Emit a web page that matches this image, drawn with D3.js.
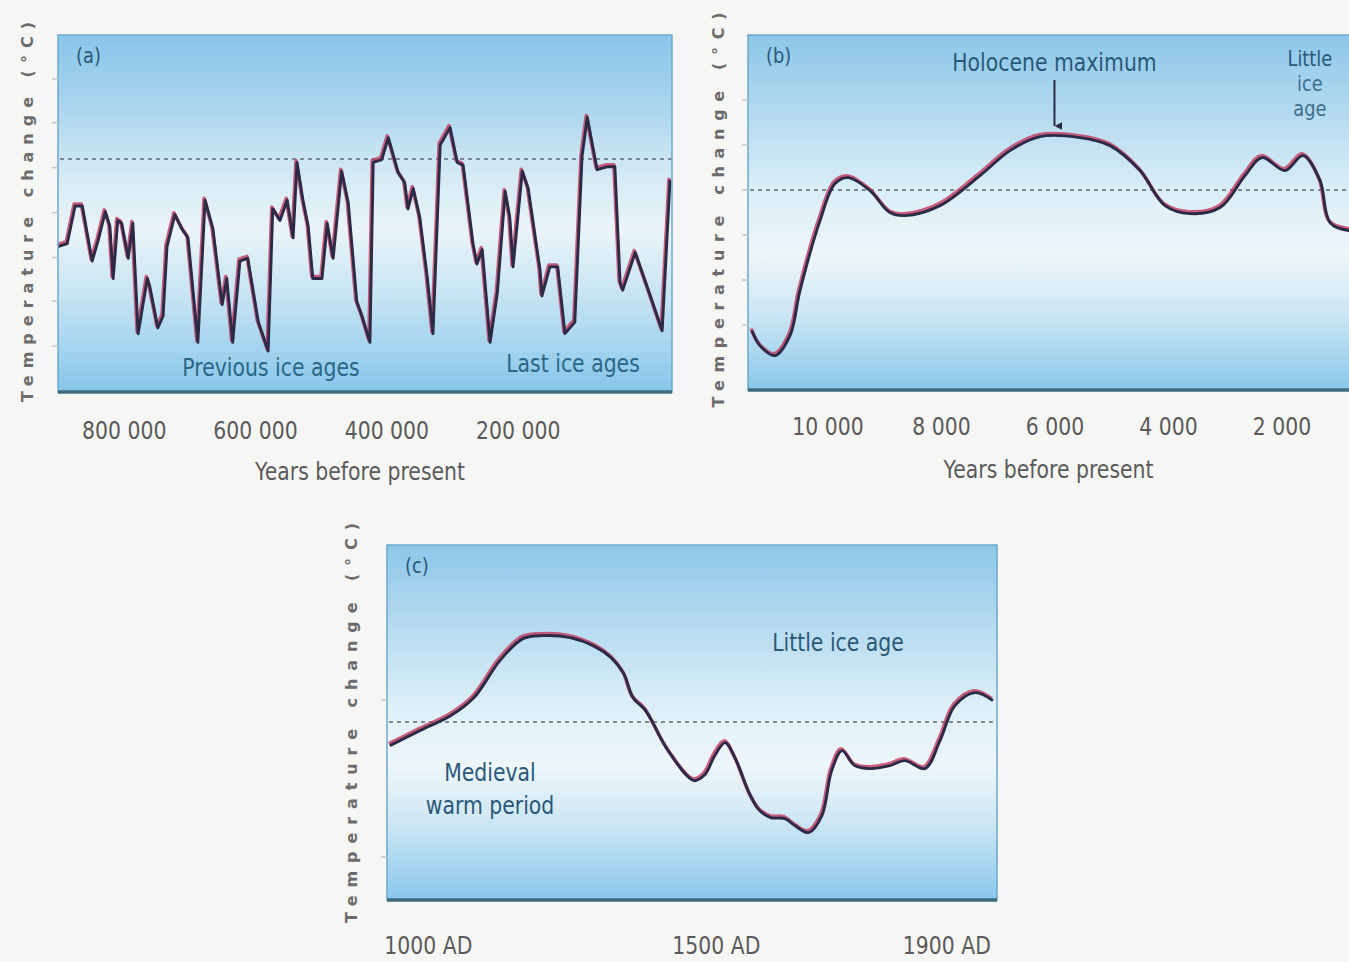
<!DOCTYPE html>
<html>
<head>
<meta charset="utf-8">
<script src="https://cdn.jsdelivr.net/npm/d3@7"></script>
<style>
  body { margin: 0; background: #f6f6f4; }
  svg { display: block; }
  text { font-family: "DejaVu Sans", sans-serif; }
</style>
</head>
<body>
<svg id="chart" width="1349" height="962"></svg>
<script>
// (a) thousand years before present / temperature change
var aYears = [900,886,874,863,848,839,828,821,816,809,803,793,786,778,764,760,748,740,734,722,711,702,687,676,664,650,643,634,623,611,595,580,573,562,551,542,536,527,519,512,498,490,481,468,458,445,437,425,420,407,397,382,372,367,359,349,338,329,318,303,292,283,268,262,254,242,231,219,212,207,193,184,166,163,151,139,128,113,102,94,79,64,52,44,40,21,-2,-20,-32];
var aTemp = [-3.0,-2.9,-1.6,-1.6,-3.5,-2.8,-1.8,-2.3,-4.1,-2.1,-2.2,-3.4,-2.2,-6.0,-4.1,-4.4,-5.8,-5.4,-3.0,-1.9,-2.4,-2.7,-6.3,-1.4,-2.4,-5.0,-4.1,-6.3,-3.5,-3.4,-5.6,-6.6,-1.7,-2.1,-1.4,-2.7,-0.1,-1.4,-2.3,-4.1,-4.1,-2.2,-3.4,-0.4,-1.5,-4.9,-5.4,-6.3,-0.1,0.0,0.75,-0.45,-0.8,-1.7,-1.0,-2.0,-4.0,-6.0,0.5,1.1,-0.1,-0.2,-2.9,-3.6,-3.1,-6.3,-4.6,-1.1,-2.0,-3.7,-0.4,-1.0,-3.8,-4.7,-3.7,-3.7,-6.0,-5.6,0.1,1.45,-0.35,-0.25,-0.25,-4.25,-4.5,-3.2,-4.7,-5.9,-0.7];
var aTicks = [800, 600, 400, 200];
var aYTicks = [2.75, 1.25, -0.3, -1.85, -3.4, -4.9, -6.45];

// (b) years before present
var bYears = [11330,11190,10924,10660,10484,10131,9867,9638,9250,8898,8634,8017,7312,6784,6255,5550,5021,4493,4052,3612,3083,2643,2343,1938,1621,1321,1145,810,0];
var bTemp = [-1.40,-1.55,-1.65,-1.45,-1.00,-0.30,0.07,0.13,0.00,-0.22,-0.25,-0.15,0.15,0.40,0.54,0.53,0.45,0.20,-0.15,-0.23,-0.17,0.15,0.33,0.20,0.35,0.10,-0.32,-0.40,-0.42];
var bTicks = [10000, 8000, 6000, 4000, 2000];
var bYTicks = [0.9, 0.45, 0, -0.45, -0.9, -1.35];

// (c) calendar years AD
var cYears = [934,986,1040,1080,1125,1165,1200,1247,1290,1318,1340,1356,1378,1417,1462,1481,1498,1516,1533,1559,1576,1595,1620,1637,1661,1684,1701,1719,1741,1767,1802,1828,1863,1889,1915,1950,1981];
var cTemp = [-0.23,-0.08,0.07,0.25,0.62,0.84,0.87,0.85,0.76,0.65,0.49,0.25,0.12,-0.28,-0.58,-0.52,-0.33,-0.20,-0.35,-0.72,-0.88,-0.95,-0.96,-1.03,-1.10,-0.93,-0.48,-0.28,-0.43,-0.46,-0.43,-0.38,-0.46,-0.18,0.17,0.30,0.22];
var cTicks = [1000, 1500, 1900];
var cYTicks = [0.22, -1.35];

var svg = d3.select('#chart');
var defs = svg.append('defs');

var spaceFmt = function (v) { return d3.format(',')(v).replace(/,/g, ' '); };

function drawPanel(p) {
  var x = d3.scaleLinear().domain(p.xDomain).range([p.x0, p.x1]);
  var y = d3.scaleLinear().domain(p.yDomain).range([p.y1, p.y0]);

  var grad = defs.append('linearGradient').attr('id', 'g-' + p.id)
    .attr('x1', 0).attr('y1', 0).attr('x2', 0).attr('y2', 1);
  p.stops.forEach(function (s) {
    grad.append('stop').attr('offset', s[0]).attr('stop-color', s[1]);
  });
  defs.append('clipPath').attr('id', 'c-' + p.id).append('rect')
    .attr('x', p.x0).attr('y', p.y0).attr('width', p.x1 - p.x0).attr('height', p.y1 - p.y0);

  var g = svg.append('g');
  g.append('rect')
    .attr('x', p.x0).attr('y', p.y0).attr('width', p.x1 - p.x0).attr('height', p.y1 - p.y0)
    .attr('fill', 'url(#g-' + p.id + ')');

  // reference line
  g.append('line')
    .attr('x1', p.x0 + 2).attr('x2', p.x1).attr('y1', y(0)).attr('y2', y(0))
    .attr('stroke', '#7d8a93').attr('stroke-width', 2).attr('stroke-dasharray', '4,4');

  var data = d3.zip(p.xs, p.ys);
  var line = d3.line().x(function (d) { return x(d[0]); }).y(function (d) { return y(d[1]); }).curve(p.curve);
  var plot = g.append('g').attr('clip-path', 'url(#c-' + p.id + ')');
  plot.append('path').datum(data).attr('d', line)
    .attr('fill', 'none').attr('stroke', '#c2385d').attr('stroke-width', 3.6)
    .attr('stroke-opacity', 0.8).attr('stroke-linejoin', 'round')
    .attr('transform', 'translate(-1,-1.3)');
  plot.append('path').datum(data).attr('d', line)
    .attr('fill', 'none').attr('stroke', '#2c2a47').attr('stroke-width', 2.9)
    .attr('stroke-linejoin', 'round').attr('transform', 'translate(0,0.6)');

  // frame
  g.append('rect')
    .attr('x', p.x0).attr('y', p.y0).attr('width', p.x1 - p.x0).attr('height', p.y1 - p.y0)
    .attr('fill', 'none').attr('stroke', '#6ea9c9').attr('stroke-width', 1.5);
  g.append('line')
    .attr('x1', p.x0).attr('x2', p.x1).attr('y1', p.y1).attr('y2', p.y1)
    .attr('stroke', '#3f6b7f').attr('stroke-width', 3.5);

  // faint y ticks
  g.selectAll('.yt').data(p.yTicks).enter().append('line')
    .attr('x1', p.x0 - 6).attr('x2', p.x0).attr('y1', function (d) { return y(d); }).attr('y2', function (d) { return y(d); })
    .attr('stroke', '#c4c8ca').attr('stroke-width', 1.5);

  // x axis labels
  var ax = g.append('g').attr('transform', 'translate(0,' + p.y1 + ')')
    .call(d3.axisBottom(x).tickValues(p.ticks).tickSize(0).tickPadding(p.tickPad).tickFormat(p.fmt));
  ax.select('.domain').remove();
  ax.selectAll('text').attr('class', 'narrow').attr('fill', '#5a5a5a').style('font-size', '24px')
    .style('font-family', '"DejaVu Sans", sans-serif');

  if (p.xTitle) {
    g.append('text').attr('class', 'narrow')
      .attr('x', (p.x0 + Math.min(p.x1, 1349)) / 2 + p.xTitleDx).attr('y', p.y1 + 88)
      .attr('text-anchor', 'middle').attr('fill', '#5a5a5a').style('font-size', '24px').text(p.xTitle);
  }

  // y axis title
  g.append('text')
    .attr('transform', 'translate(' + p.titleX + ',' + p.titleY + ') rotate(-90)')
    .attr('text-anchor', 'middle').attr('fill', '#6c6c6c')
    .attr('textLength', p.titleLen).attr('lengthAdjust', 'spacing')
    .style('font-size', '16px').style('font-weight', 'bold')
    .text('Temperature change (°C)');

  g.append('text').attr('class', 'narrow').attr('x', p.x0 + 18).attr('y', p.y0 + 28)
    .attr('fill', '#2a5878').style('font-size', '21px').text(p.label);

  return { g: g, x: x, y: y };
}

var stops = [[0, '#88c5e9'], [0.18, '#a6d3ed'], [0.4, '#d6ebf5'], [0.55, '#e9f4f8'], [0.72, '#c9e5f3'], [0.9, '#9ed1ee'], [1, '#86c5ea']];
var stopsLow = [[0, '#8cc7e9'], [0.2, '#b0d8ef'], [0.45, '#dcEff7'], [0.62, '#eef6f9'], [0.78, '#cde7f4'], [0.92, '#a2d3ef'], [1, '#88c6ea']];

var pa = drawPanel({
  id: 'a', x0: 58, x1: 672, y0: 35, y1: 392,
  xDomain: [900, -35], yDomain: [-8.03, 4.27],
  xs: aYears, ys: aTemp, curve: d3.curveLinear,
  ticks: aTicks, fmt: function (d) { return spaceFmt(d * 1000); }, tickPad: 30,
  yTicks: aYTicks, stops: stops, label: '(a)',
  xTitle: 'Years before present', xTitleDx: -5,
  titleX: 33, titleY: 212, titleLen: 380
});
pa.g.append('text').attr('class', 'narrow').attr('x', 271).attr('y', 376).attr('text-anchor', 'middle')
  .attr('fill', '#2a6685').style('font-size', '24px').text('Previous ice ages');
pa.g.append('text').attr('class', 'narrow').attr('x', 573).attr('y', 372).attr('text-anchor', 'middle')
  .attr('fill', '#2a6685').style('font-size', '24px').text('Last ice ages');

var pb = drawPanel({
  id: 'b', x0: 748, x1: 1395, y0: 35, y1: 390,
  xDomain: [11400, 0], yDomain: [-2, 1.55],
  xs: bYears, ys: bTemp, curve: d3.curveCatmullRom.alpha(0.5),
  ticks: bTicks, fmt: spaceFmt, tickPad: 28,
  yTicks: bYTicks, stops: stopsLow, label: '(b)',
  xTitle: 'Years before present', xTitleDx: 0,
  titleX: 724, titleY: 210, titleLen: 395
});
pb.g.append('text').attr('class', 'narrow').attr('x', pb.x(6000)).attr('y', 71).attr('text-anchor', 'middle')
  .attr('fill', '#2a5878').style('font-size', '24px').text('Holocene maximum');
defs.append('marker').attr('id', 'arr').attr('viewBox', '0 0 10 10').attr('refX', 5).attr('refY', 10)
  .attr('markerWidth', 4).attr('markerHeight', 4).attr('orient', 'auto-start-reverse')
  .append('path').attr('d', 'M0,0 L10,0 L5,10 Z').attr('fill', '#2c2a47');
pb.g.append('line').attr('x1', pb.x(6000)).attr('x2', pb.x(6000)).attr('y1', 80).attr('y2', pb.y(0.64))
  .attr('stroke', '#2c2a47').attr('stroke-width', 2).attr('marker-end', 'url(#arr)');
['Little', 'ice', 'age'].forEach(function (t, i) {
  pb.g.append('text').attr('class', 'narrow').attr('x', pb.x(1500)).attr('y', 66 + i * 25).attr('text-anchor', 'middle')
    .attr('fill', i === 0 ? '#2a5878' : '#3d6f8d').style('font-size', '21px').text(t);
});

var pc = drawPanel({
  id: 'c', x0: 387, x1: 997, y0: 545, y1: 900,
  xDomain: [929, 1988], yDomain: [-1.78, 1.77],
  xs: cYears, ys: cTemp, curve: d3.curveCatmullRom.alpha(0.5),
  ticks: cTicks, fmt: function (d) { return d + ' AD'; }, tickPad: 37,
  yTicks: cYTicks, stops: stopsLow, label: '(c)',
  xTitle: null,
  titleX: 357, titleY: 723, titleLen: 400
});
pc.g.append('text').attr('class', 'narrow').attr('x', 838).attr('y', 651).attr('text-anchor', 'middle')
  .attr('fill', '#2a5878').style('font-size', '24px').text('Little ice age');
pc.g.append('text').attr('class', 'narrow').attr('x', 490).attr('y', 781).attr('text-anchor', 'middle')
  .attr('fill', '#2a5878').style('font-size', '24px').text('Medieval');
pc.g.append('text').attr('class', 'narrow').attr('x', 490).attr('y', 814).attr('text-anchor', 'middle')
  .attr('fill', '#2a5878').style('font-size', '24px').text('warm period');

// squeeze the label text to mimic the condensed face of the original
svg.selectAll('text.narrow').each(function () {
  var w = this.getComputedTextLength();
  d3.select(this).attr('textLength', w * 0.85).attr('lengthAdjust', 'spacingAndGlyphs');
});
</script>
</body>
</html>
